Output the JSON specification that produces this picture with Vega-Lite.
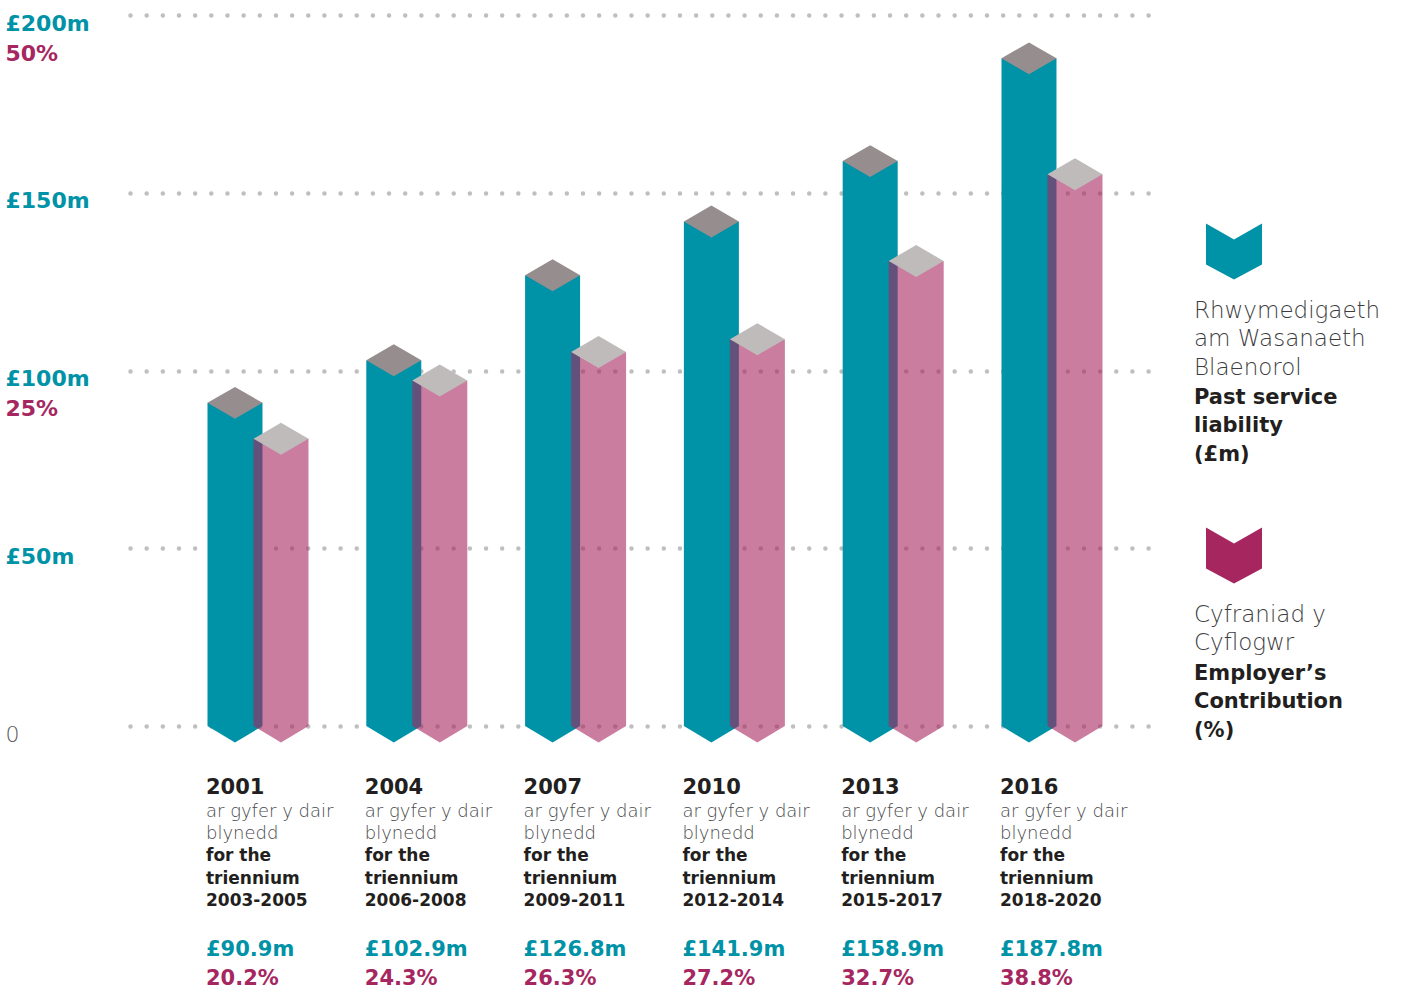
{
  "$schema": "https://vega.github.io/schema/vega-lite/v6.json",
  "background": "white",
  "padding": {"left": 5, "top": 12, "right": 0, "bottom": 0},
  "spacing": 44,
  "config": {
    "view": {"stroke": null},
    "font": "DejaVu Sans",
    "locale": {"number": {"decimal": ".", "thousands": ",", "grouping": [3], "currency": ["£", "m"]}}
  },
  "hconcat": [
    {
      "width": 1020,
      "height": 711,
      "data": {"values": [
        {"year": "2001", "period": "2003-2005", "liability": 90.9, "contribution": 0.202},
        {"year": "2004", "period": "2006-2008", "liability": 102.9, "contribution": 0.243},
        {"year": "2007", "period": "2009-2011", "liability": 126.8, "contribution": 0.263},
        {"year": "2010", "period": "2012-2014", "liability": 141.9, "contribution": 0.272},
        {"year": "2013", "period": "2015-2017", "liability": 158.9, "contribution": 0.327},
        {"year": "2016", "period": "2018-2020", "liability": 187.8, "contribution": 0.388}
      ]},
      "encoding": {
        "x": {"field": "year", "type": "nominal", "axis": null, "sort": null,
              "scale": {"paddingInner": 0, "paddingOuter": 0.2116, "align": 0.723}}
      },
      "resolve": {"scale": {"y": "independent"}, "axis": {"y": "independent"}},
      "layer": [
        {
          "layer": [
            {
              "mark": {"type": "bar", "width": 55, "xOffset": -23, "color": "#0092A6"},
              "encoding": {
                "y": {"field": "liability", "type": "quantitative",
                      "scale": {"domain": [0, 200], "nice": false},
                      "axis": {
                        "orient": "left", "values": [0, 50, 100, 150, 200], "title": null,
                        "domain": false, "ticks": false, "tickSize": 0,
                        "labelPadding": 125, "labelAlign": "left", "labelBaseline": "top", "labelOffset": -2,
                        "labelFontSize": 22, "format": "$d",
                        "labelExpr": "datum.value == 0 ? '0' : datum.label",
                        "labelFontWeight": {"condition": {"test": "datum.value == 0", "value": 300}, "value": "bold"},
                        "labelColor": {"condition": {"test": "datum.value == 0", "value": "#58595B"}, "value": "#0092A6"},
                        "labelOverlap": false, "labelFlush": false, "labelBound": false,
                        "grid": true, "gridColor": "#BFBFBF", "gridDash": [0, 16.16], "gridCap": "round", "gridWidth": 4.5
                      }}
              }
            },
            {
              "mark": {"type": "point", "shape": "M -1 0 L 1 0 L 0 0.6 Z", "size": 3025, "filled": true,
                       "opacity": 1, "color": "#0092A6", "strokeWidth": 0, "xOffset": -23},
              "encoding": {"y": {"datum": 0, "type": "quantitative"}}
            },
            {
              "mark": {"type": "point", "shape": "M -1 0 L 0 -0.58 L 1 0 L 0 0.58 Z", "size": 3025, "filled": true,
                       "opacity": 1, "color": "#968E8E", "strokeWidth": 0, "xOffset": -23},
              "encoding": {"y": {"field": "liability", "type": "quantitative"}}
            },
            {
              "mark": {"type": "text", "align": "left", "baseline": "alphabetic", "dx": -52, "dy": 68,
                       "fontSize": 21, "fontWeight": "bold", "color": "#231F20"},
              "encoding": {"y": {"datum": 0, "type": "quantitative"}, "text": {"field": "year", "type": "nominal"}}
            },
            {
              "mark": {"type": "text", "align": "left", "baseline": "alphabetic", "dx": -52, "dy": 91,
                       "fontSize": 18, "fontWeight": 300, "lineHeight": 22, "color": "#48494B",
                       "text": ["ar gyfer y dair", "blynedd"]},
              "encoding": {"y": {"datum": 0, "type": "quantitative"}}
            },
            {
              "mark": {"type": "text", "align": "left", "baseline": "alphabetic", "dx": -52, "dy": 135,
                       "fontSize": 17, "fontWeight": "bold", "lineHeight": 23, "color": "#231F20",
                       "text": ["for the", "triennium"]},
              "encoding": {"y": {"datum": 0, "type": "quantitative"}}
            },
            {
              "mark": {"type": "text", "align": "left", "baseline": "alphabetic", "dx": -52, "dy": 180,
                       "fontSize": 17, "fontWeight": "bold", "color": "#231F20"},
              "encoding": {"y": {"datum": 0, "type": "quantitative"}, "text": {"field": "period", "type": "nominal"}}
            },
            {
              "mark": {"type": "text", "align": "left", "baseline": "alphabetic", "dx": -52, "dy": 230,
                       "fontSize": 21, "fontWeight": "bold", "color": "#0092A6"},
              "encoding": {"y": {"datum": 0, "type": "quantitative"},
                           "text": {"field": "liability", "type": "quantitative", "format": "$.1f"}}
            }
          ]
        },
        {
          "layer": [
            {
              "mark": {"type": "bar", "width": 55, "xOffset": 23, "color": "#A6275F", "opacity": 0.6},
              "encoding": {
                "y": {"field": "contribution", "type": "quantitative",
                      "scale": {"domain": [0, 0.5], "nice": false},
                      "axis": {
                        "orient": "left", "values": [0.25, 0.5], "title": null, "format": ".0%",
                        "domain": false, "ticks": false, "tickSize": 0, "grid": false,
                        "labelPadding": 125, "labelAlign": "left", "labelBaseline": "top", "labelOffset": 28,
                        "labelFontSize": 22, "labelFontWeight": "bold", "labelColor": "#A6275F",
                        "labelOverlap": false, "labelFlush": false, "labelBound": false
                      }}
              }
            },
            {
              "mark": {"type": "point", "shape": "M -1 0 L 1 0 L 0 0.6 Z", "size": 3025, "filled": true,
                       "opacity": 0.6, "color": "#A6275F", "strokeWidth": 0, "xOffset": 23},
              "encoding": {"y": {"datum": 0, "type": "quantitative"}}
            },
            {
              "mark": {"type": "point", "shape": "M -1 0 L 0 -0.58 L 1 0 L 0 0.58 Z", "size": 3025, "filled": true,
                       "opacity": 1, "color": "#C0BBBB", "strokeWidth": 0, "xOffset": 23},
              "encoding": {"y": {"field": "contribution", "type": "quantitative"}}
            },
            {
              "mark": {"type": "text", "align": "left", "baseline": "alphabetic", "dx": -52, "dy": 259,
                       "fontSize": 21, "fontWeight": "bold", "color": "#A6275F"},
              "encoding": {"y": {"datum": 0, "type": "quantitative"},
                           "text": {"field": "contribution", "type": "quantitative", "format": ".1%"}}
            }
          ]
        }
      ]
    },
    {
      "width": 80,
      "height": 711,
      "data": {"values": [
        {"series": "liability", "welsh": ["Rhwymedigaeth", "am Wasanaeth", "Blaenorol"], "english": ["Past service", "liability", "(£m)"]},
        {"series": "contribution", "welsh": ["Cyfraniad y", "Cyflogwr"], "english": ["Employer’s", "Contribution", "(%)"]}
      ]},
      "encoding": {
        "y": {"field": "series", "type": "nominal", "axis": null, "sort": null,
              "scale": {"type": "point", "domain": ["liability", "contribution"], "padding": 0.6694, "align": 0.5811}}
      },
      "layer": [
        {
          "mark": {"type": "point", "shape": "M -1 -1 L 0 -0.43 L 1 -1 L 1 0.46 L 0 1 L -1 0.46 Z",
                   "size": 3136, "filled": true, "opacity": 1, "strokeWidth": 0},
          "encoding": {
            "color": {"field": "series", "type": "nominal", "legend": null,
                      "scale": {"domain": ["liability", "contribution"], "range": ["#0092A6", "#A6275F"]}}
          }
        },
        {
          "mark": {"type": "text", "align": "left", "baseline": "alphabetic", "dx": -40, "dy": 66,
                   "fontSize": 23, "fontWeight": 300, "lineHeight": 28.7, "color": "#3C3C3E"},
          "encoding": {"text": {"field": "welsh", "type": "nominal"}}
        },
        {
          "transform": [{"filter": "datum.series == 'liability'"}],
          "mark": {"type": "text", "align": "left", "baseline": "alphabetic", "dx": -40, "dy": 152,
                   "fontSize": 21, "fontWeight": "bold", "lineHeight": 28.7, "color": "#231F20"},
          "encoding": {"text": {"field": "english", "type": "nominal"}}
        },
        {
          "transform": [{"filter": "datum.series == 'contribution'"}],
          "mark": {"type": "text", "align": "left", "baseline": "alphabetic", "dx": -40, "dy": 124,
                   "fontSize": 21, "fontWeight": "bold", "lineHeight": 28.7, "color": "#231F20"},
          "encoding": {"text": {"field": "english", "type": "nominal"}}
        }
      ]
    }
  ]
}
